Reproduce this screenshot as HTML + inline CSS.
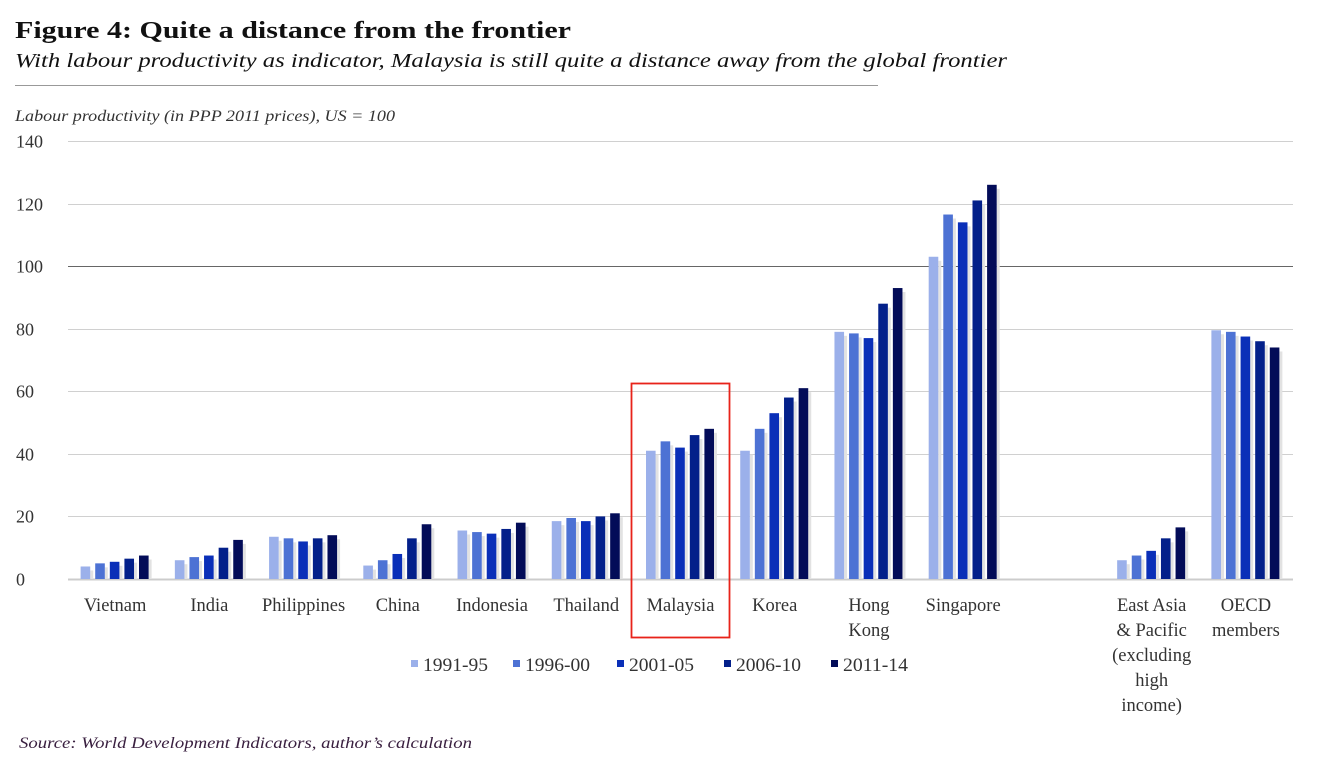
<!DOCTYPE html>
<html><head><meta charset="utf-8"><style>
body{margin:0;background:#fff;}
svg{display:block;font-family:"Liberation Serif",serif;}
</style></head><body>
<svg id="chart" width="1339" height="762" viewBox="0 0 1339 762">
<text x="15" y="38" font-size="24" font-weight="bold" fill="#111" textLength="556" lengthAdjust="spacingAndGlyphs">Figure 4: Quite a distance from the frontier</text>
<text x="15" y="67" font-size="20" font-style="italic" fill="#111" textLength="992" lengthAdjust="spacingAndGlyphs">With labour productivity as indicator, Malaysia is still quite a distance away from the global frontier</text>
<line x1="15" y1="85.5" x2="878" y2="85.5" stroke="#999" stroke-width="1"/>
<text x="15" y="121" font-size="15.5" font-style="italic" fill="#333" textLength="380" lengthAdjust="spacingAndGlyphs">Labour productivity (in PPP 2011 prices), US = 100</text>
<g id="grid"></g><g id="bars"></g><g id="labels"></g>
<rect x="631.5" y="383.5" width="98" height="254" fill="none" stroke="#e8231a" stroke-width="1.8"/>
<g id="legend"></g>
<text x="19" y="748" font-size="15.5" font-style="italic" fill="#3a2040" textLength="453" lengthAdjust="spacingAndGlyphs">Source: World Development Indicators, author’s calculation</text>
</svg>
<script>
const categories=["Vietnam","India","Philippines","China","Indonesia","Thailand","Malaysia","Korea","Hong Kong","Singapore","","East Asia & Pacific (excluding high income)","OECD members"];
const seriesNames=["1991-95","1996-00","2001-05","2006-10","2011-14"];
const s1991=[4,6,13.5,4.3,15.5,18.5,41,41,79,103,null,6,79.5];
const s1996=[5,7,13,6,15,19.5,44,48,78.5,116.5,null,7.5,79];
const s2001=[5.5,7.5,12,8,14.5,18.5,42,53,77,114,null,9,77.5];
const s2006=[6.5,10,13,13,16,20,46,58,88,121,null,13,76];
const s2011=[7.5,12.5,14,17.5,18,21,48,61,93,126,null,16.5,74];
const yTicks=[0,20,40,60,80,100,120,140];
const series=[s1991,s1996,s2001,s2006,s2011];
const colors=["#9bb0ea","#4d72d4","#0a2fb8","#03208a","#030c58"];
const labelLines=[["Vietnam"],["India"],["Philippines"],["China"],["Indonesia"],["Thailand"],["Malaysia"],["Korea"],["Hong","Kong"],["Singapore"],[],["East Asia","& Pacific","(excluding","high","income)"],["OECD","members"]];
const NS="http://www.w3.org/2000/svg";
const x0=68,x1=1293,y0=579,yTop=141;
function yScale(v){return y0-(v/140)*(y0-yTop);}
const slotW=(x1-x0)/categories.length;
function xCenter(i){return x0+slotW*(i+0.5);}
function mk(tag,attrs,parent){const e=document.createElementNS(NS,tag);for(const k in attrs)e.setAttribute(k,attrs[k]);parent.appendChild(e);return e;}
const grid=document.getElementById('grid');
yTicks.forEach(t=>{
  const y=Math.round(yScale(t))+0.5;
  if(t>0){const l=mk('line',{x1:x0,y1:y,x2:x1,y2:y,stroke:t===100?'#666':'#d0d0d0','stroke-width':1},grid);
  
  }
  const tx=mk('text',{x:16,y:y+6,'font-size':18,fill:'#333'},grid);
  tx.textContent=t;
  
  
});
const base=mk('line',{x1:x0,y1:y0+0.5,x2:x1,y2:y0+0.5,stroke:'#ccc','stroke-width':2},grid);


const bars=document.getElementById('bars');
const bw=9.6,step=14.6;
categories.forEach((c,i)=>{
  series.forEach((s,j)=>{
    const v=s[i]; if(v==null)return;
    const x=xCenter(i)-34.5+j*step;
    const y=yScale(v);
    const sh=mk('rect',{x:x+bw,y:y+4,width:3,height:y0-y-4,fill:'#e2e2e2'},bars);
    
    
    const r=mk('rect',{x:x,y:y,width:bw,height:y0-y,fill:colors[j]},bars);
    
    
  });
});
const labels=document.getElementById('labels');
labelLines.forEach((lines,i)=>{
  lines.forEach((ln,k)=>{
    const t=mk('text',{x:xCenter(i),y:611+k*25,'font-size':18.5,fill:'#333','text-anchor':'middle'},labels);
    t.textContent=ln;
    
    
  });
});
const legend=document.getElementById('legend');
const lx=[411,513,617,724,831];
seriesNames.forEach((n,j)=>{
  const g=mk('g',{},legend);
  
  
  mk('rect',{x:lx[j],y:660,width:7,height:7,fill:colors[j]},g);
  const t=mk('text',{x:lx[j]+12,y:671,'font-size':18.5,fill:'#333',textLength:65,lengthAdjust:'spacingAndGlyphs'},g);
  t.textContent=n;
});
</script>
</body></html>
